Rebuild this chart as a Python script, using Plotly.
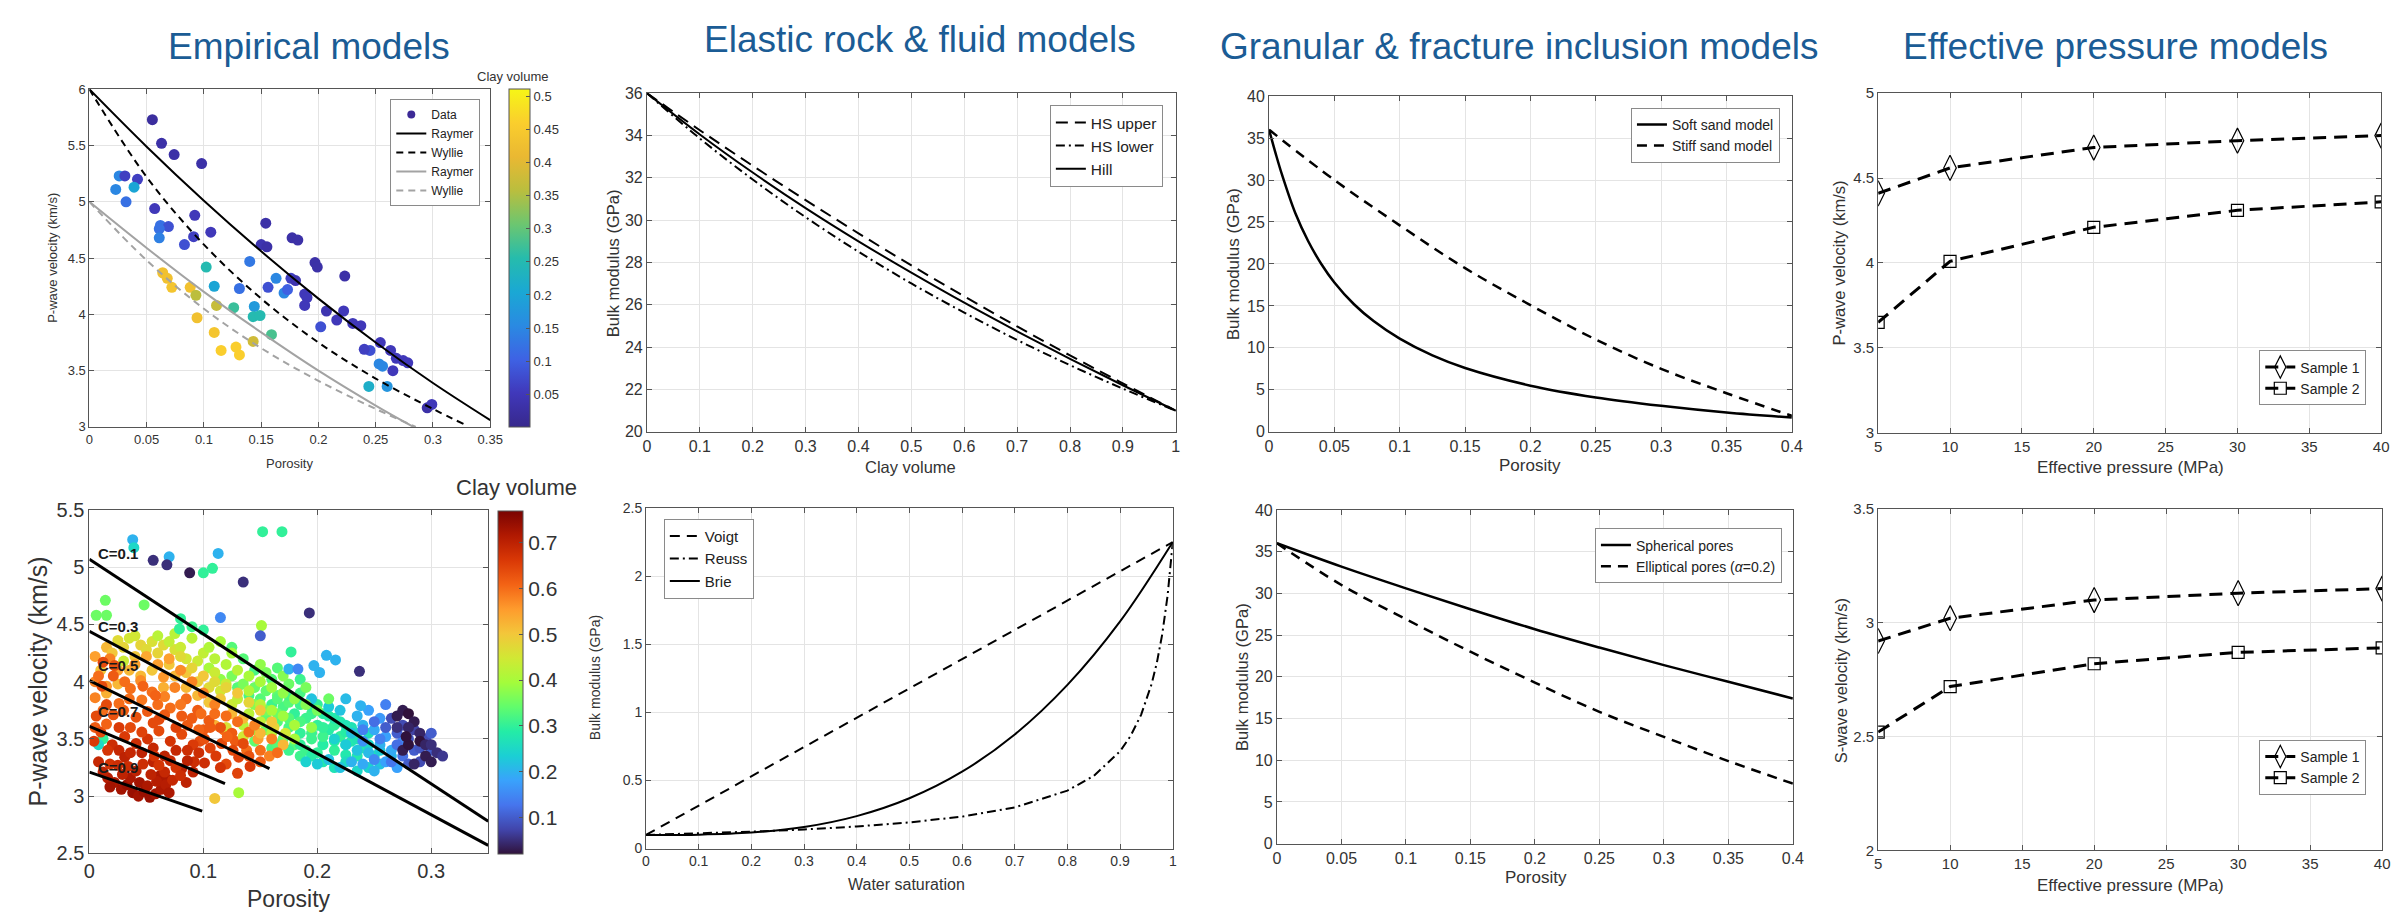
import plotly.graph_objects as go

W, H = 2408, 914
FONT = "Liberation Sans, Arial, Helvetica, sans-serif"
TITLE_BLUE = "#1b5c95"
AXIS_COL = "#555555"
GRID_COL = "#e4e4e4"
TICK_COL = "#333333"

# ============================ DATA ============================
# ---- Empirical models (top-left): data points ----
emp_phi = [0.055, 0.063, 0.074, 0.098, 0.026, 0.031, 0.042, 0.023, 0.039, 0.032,
           0.057, 0.092, 0.154, 0.062, 0.069, 0.061, 0.106, 0.177, 0.182, 0.061,
           0.091, 0.083, 0.150, 0.155, 0.140, 0.197, 0.199, 0.102, 0.223, 0.163,
           0.176, 0.180, 0.064, 0.068, 0.072, 0.088, 0.109, 0.131, 0.156, 0.170,
           0.173, 0.093, 0.188, 0.190, 0.188, 0.111, 0.144, 0.126, 0.207, 0.222,
           0.143, 0.149, 0.094, 0.202, 0.216, 0.230, 0.237, 0.109, 0.159, 0.143,
           0.115, 0.128, 0.131, 0.245, 0.240, 0.254, 0.263, 0.268, 0.274, 0.278,
           0.253, 0.256, 0.265, 0.244, 0.260, 0.295, 0.299]
emp_vp = [5.73, 5.52, 5.42, 5.34, 5.23, 5.23, 5.20, 5.11, 5.13, 5.00,
          4.94, 4.88, 4.81, 4.79, 4.78, 4.76, 4.73, 4.68, 4.66, 4.68,
          4.69, 4.62, 4.62, 4.60, 4.47, 4.46, 4.42, 4.42, 4.34, 4.32,
          4.32, 4.30, 4.37, 4.32, 4.24, 4.24, 4.25, 4.23, 4.24, 4.19,
          4.22, 4.17, 4.18, 4.15, 4.08, 4.08, 4.07, 4.06, 4.03, 4.03,
          3.98, 3.99, 3.97, 3.89, 3.95, 3.92, 3.90, 3.84, 3.82, 3.76,
          3.68, 3.71, 3.64, 3.68, 3.69, 3.75, 3.68, 3.61, 3.59, 3.57,
          3.56, 3.54, 3.50, 3.36, 3.36, 3.17, 3.20]
emp_clay = [0.02, 0.03, 0.03, 0.03, 0.15, 0.06, 0.06, 0.15, 0.20, 0.12,
            0.05, 0.05, 0.03, 0.12, 0.08, 0.12, 0.05, 0.03, 0.03, 0.14,
            0.06, 0.08, 0.04, 0.03, 0.13, 0.03, 0.03, 0.25, 0.03, 0.15,
            0.06, 0.04, 0.43, 0.43, 0.44, 0.43, 0.20, 0.12, 0.08, 0.15,
            0.10, 0.36, 0.05, 0.05, 0.05, 0.37, 0.18, 0.27, 0.04, 0.05,
            0.25, 0.25, 0.43, 0.08, 0.05, 0.05, 0.05, 0.44, 0.28, 0.38,
            0.46, 0.46, 0.46, 0.08, 0.06, 0.05, 0.05, 0.05, 0.05, 0.05,
            0.15, 0.15, 0.05, 0.22, 0.17, 0.03, 0.05]
# model curves
raymer_phi_a = [0, 0.05, 0.10, 0.15, 0.20, 0.25, 0.30, 0.35]
raymer_vp_a = [6.00, 5.49, 5.01, 4.56, 4.14, 3.75, 3.39, 3.06]
wyllie_phi_a = [0, 0.05, 0.10, 0.15, 0.20, 0.25, 0.30, 0.328]
wyllie_vp_a = [6.00, 5.22, 4.62, 4.14, 3.75, 3.43, 3.16, 3.02]
raymer_phi_b = [0, 0.05, 0.10, 0.15, 0.20, 0.25, 0.283]
raymer_vp_b = [5.00, 4.59, 4.20, 3.84, 3.50, 3.19, 3.00]
wyllie_phi_b = [0, 0.05, 0.10, 0.15, 0.20, 0.25, 0.285]
wyllie_vp_b = [5.00, 4.48, 4.05, 3.70, 3.41, 3.16, 3.00]

# ---- Elastic rock models (top-middle) ----
clay_frac = [0, 0.1, 0.2, 0.3, 0.4, 0.5, 0.6, 0.7, 0.8, 0.9, 1.0]
k_hs_upper = [36.0, 34.25, 32.57, 30.95, 29.38, 27.86, 26.40, 24.98, 23.61, 22.29, 21.0]
k_hs_lower = [36.0, 33.86, 31.92, 30.14, 28.51, 27.01, 25.63, 24.34, 23.15, 22.04, 21.0]
k_hill = [36.0, 34.05, 32.25, 30.57, 29.00, 27.52, 26.10, 24.75, 23.45, 22.20, 21.0]

# ---- Fluid models (bottom-middle) ----
sw_voigt = [0, 1.0]
k_voigt = [0.10, 2.25]
sw_reuss = [0, 0.1, 0.2, 0.3, 0.4, 0.5, 0.6, 0.7, 0.8, 0.85, 0.9, 0.92, 0.94, 0.96, 0.97, 0.98, 0.99, 1.0]
k_reuss = [0.100, 0.111, 0.124, 0.140, 0.162, 0.192, 0.234, 0.302, 0.425, 0.533, 0.714, 0.827,
           0.983, 1.210, 1.368, 1.573, 1.852, 2.25]
sw_brie = [0, 0.1, 0.2, 0.3, 0.4, 0.5, 0.6, 0.7, 0.8, 0.9, 1.0]
k_brie = [0.100, 0.102, 0.117, 0.158, 0.238, 0.369, 0.564, 0.837, 1.201, 1.667, 2.25]

# ---- Granular models (top-third) ----
soft_phi = [0, 0.005, 0.01, 0.02, 0.03, 0.04, 0.05, 0.065, 0.08, 0.10, 0.125, 0.15, 0.20, 0.25, 0.30, 0.35, 0.40]
soft_k = [36.0, 33.2, 30.6, 26.1, 22.7, 20.0, 17.8, 15.2, 13.2, 11.1, 9.1, 7.6, 5.5, 4.1, 3.1, 2.3, 1.7]
stiff_phi = [0, 0.05, 0.10, 0.15, 0.20, 0.25, 0.30, 0.35, 0.40]
stiff_k = [36.0, 30.0, 24.6, 19.5, 15.1, 11.0, 7.5, 4.6, 1.9]

# ---- Inclusion models (bottom-third) ----
incl_phi = [0, 0.05, 0.10, 0.15, 0.20, 0.25, 0.30, 0.35, 0.40]
k_spherical = [36.0, 33.2, 30.6, 28.1, 25.7, 23.5, 21.4, 19.4, 17.4]
k_elliptical = [36.0, 31.0, 26.9, 23.0, 19.3, 15.8, 12.8, 9.9, 7.2]

# ---- Effective pressure models (right) ----
pressure = [5, 10, 20, 30, 40]
vp_sample1 = [4.41, 4.56, 4.68, 4.72, 4.75]
vp_sample2 = [3.65, 4.01, 4.21, 4.31, 4.36]
vs_sample1 = [2.92, 3.02, 3.10, 3.13, 3.15]
vs_sample2 = [2.52, 2.72, 2.82, 2.87, 2.89]

# ---- Bottom-left scatter: (porosity, Vp, clay volume) ----
bl_teal = [(0.130, 3.95, 0.33), (0.140, 3.88, 0.32), (0.150, 3.85, 0.33), (0.160, 3.80, 0.31),
           (0.170, 3.78, 0.32), (0.180, 3.72, 0.30), (0.190, 3.68, 0.31), (0.200, 3.62, 0.30),
           (0.210, 3.58, 0.29), (0.220, 3.52, 0.30), (0.230, 3.48, 0.28), (0.240, 3.42, 0.28),
           (0.175, 3.60, 0.32), (0.185, 3.55, 0.30), (0.195, 3.50, 0.31), (0.205, 3.45, 0.29),
           (0.215, 3.40, 0.30), (0.225, 3.36, 0.28), (0.165, 3.65, 0.33), (0.155, 3.70, 0.34),
           (0.180, 3.45, 0.33), (0.190, 3.40, 0.31), (0.200, 3.38, 0.30), (0.170, 3.50, 0.34),
           (0.210, 3.70, 0.29), (0.220, 3.65, 0.28), (0.230, 3.60, 0.27), (0.200, 3.80, 0.30),
           (0.185, 3.90, 0.32), (0.160, 4.02, 0.33), (0.145, 4.10, 0.32), (0.135, 4.20, 0.33),
           (0.125, 4.30, 0.33), (0.100, 4.45, 0.30), (0.090, 4.48, 0.31), (0.080, 4.55, 0.30),
           (0.250, 3.35, 0.27), (0.245, 3.55, 0.26), (0.205, 3.52, 0.31), (0.215, 3.62, 0.30),
           (0.175, 3.82, 0.33), (0.165, 3.88, 0.34), (0.195, 3.72, 0.31), (0.235, 3.35, 0.28),
           (0.225, 3.56, 0.29), (0.185, 3.35, 0.31), (0.160, 3.42, 0.32), (0.145, 3.48, 0.34)]
bl_band = [(0.105, 4.12, 0.40), (0.115, 4.02, 0.38), (0.125, 4.05, 0.36), (0.135, 3.98, 0.36),
           (0.145, 3.95, 0.35), (0.155, 3.92, 0.34), (0.165, 3.85, 0.33), (0.175, 3.88, 0.32),
           (0.185, 3.80, 0.31), (0.195, 3.78, 0.30), (0.205, 3.72, 0.29), (0.215, 3.68, 0.28),
           (0.225, 3.62, 0.27), (0.235, 3.55, 0.26), (0.155, 4.08, 0.36), (0.165, 4.12, 0.33),
           (0.175, 3.98, 0.35), (0.185, 4.02, 0.31), (0.145, 3.80, 0.37), (0.155, 3.75, 0.36),
           (0.165, 3.72, 0.35), (0.175, 3.68, 0.33), (0.185, 3.65, 0.32), (0.195, 3.55, 0.31),
           (0.205, 3.60, 0.30), (0.215, 3.48, 0.29), (0.225, 3.45, 0.28), (0.235, 3.50, 0.27),
           (0.245, 3.45, 0.25), (0.255, 3.40, 0.23), (0.265, 3.35, 0.21), (0.255, 3.28, 0.22),
           (0.245, 3.25, 0.24), (0.235, 3.22, 0.25), (0.225, 3.30, 0.26), (0.215, 3.25, 0.27),
           (0.205, 3.30, 0.28), (0.195, 3.35, 0.29), (0.185, 3.45, 0.30), (0.175, 3.40, 0.31),
           (0.165, 3.45, 0.33), (0.155, 3.58, 0.35), (0.145, 3.58, 0.38), (0.135, 3.62, 0.42),
           (0.125, 3.80, 0.44), (0.115, 3.92, 0.45), (0.105, 3.95, 0.47), (0.095, 4.00, 0.49),
           (0.085, 4.08, 0.50), (0.075, 4.28, 0.46), (0.065, 4.32, 0.47), (0.055, 4.35, 0.46),
           (0.045, 4.32, 0.48), (0.035, 4.38, 0.45), (0.025, 4.36, 0.47), (0.015, 4.30, 0.52),
           (0.005, 4.22, 0.55), (0.005, 4.00, 0.58), (0.012, 3.75, 0.60), (0.005, 3.60, 0.62),
           (0.012, 3.50, 0.30), (0.008, 3.45, 0.25), (0.018, 3.28, 0.67), (0.008, 3.30, 0.69),
           (0.062, 3.18, 0.72), (0.068, 3.15, 0.72), (0.085, 3.12, 0.70), (0.092, 3.30, 0.68),
           (0.097, 3.48, 0.64), (0.118, 3.58, 0.60), (0.128, 3.48, 0.62), (0.138, 3.40, 0.60),
           (0.148, 3.50, 0.55), (0.158, 3.35, 0.58), (0.162, 3.60, 0.48), (0.172, 3.55, 0.45),
           (0.140, 3.35, 0.63), (0.120, 3.28, 0.64), (0.130, 3.20, 0.65)]
bl_lightblue = [(0.190, 3.30, 0.24), (0.200, 3.28, 0.23), (0.210, 3.32, 0.22), (0.220, 3.25, 0.22),
                (0.230, 3.30, 0.20), (0.240, 3.28, 0.19), (0.250, 3.22, 0.20), (0.260, 3.30, 0.18),
                (0.270, 3.25, 0.18), (0.215, 3.50, 0.24), (0.225, 3.45, 0.23), (0.235, 3.40, 0.22),
                (0.245, 3.38, 0.21), (0.255, 3.45, 0.20), (0.265, 3.40, 0.19), (0.230, 3.55, 0.22),
                (0.240, 3.62, 0.20), (0.250, 3.58, 0.19), (0.260, 3.52, 0.18), (0.235, 3.70, 0.20),
                (0.245, 3.75, 0.18), (0.255, 3.68, 0.17), (0.220, 3.75, 0.22), (0.210, 3.78, 0.23),
                (0.225, 3.85, 0.21), (0.260, 3.80, 0.14), (0.195, 3.85, 0.22), (0.275, 3.48, 0.15)]
bl_blue = [(0.250, 3.65, 0.12), (0.260, 3.60, 0.10), (0.270, 3.55, 0.10), (0.265, 3.68, 0.08),
           (0.275, 3.62, 0.08), (0.280, 3.50, 0.09), (0.285, 3.40, 0.10), (0.275, 3.35, 0.12),
           (0.265, 3.30, 0.13), (0.255, 3.50, 0.14), (0.280, 3.28, 0.10), (0.290, 3.30, 0.08),
           (0.295, 3.50, 0.08), (0.300, 3.55, 0.10), (0.285, 3.58, 0.07), (0.270, 3.45, 0.12),
           (0.250, 3.32, 0.15), (0.240, 3.48, 0.16), (0.290, 3.42, 0.09), (0.300, 3.40, 0.10),
           (0.240, 3.58, 0.14)]
bl_darkblue = [(0.270, 3.70, 0.03), (0.275, 3.75, 0.03), (0.280, 3.72, 0.02), (0.285, 3.65, 0.03),
               (0.280, 3.60, 0.04), (0.290, 3.55, 0.04), (0.295, 3.35, 0.03), (0.300, 3.30, 0.03),
               (0.305, 3.38, 0.05), (0.310, 3.35, 0.06), (0.285, 3.28, 0.04), (0.275, 3.40, 0.03),
               (0.290, 3.48, 0.02), (0.280, 3.45, 0.02), (0.295, 3.45, 0.04), (0.270, 3.60, 0.05),
               (0.300, 3.45, 0.05), (0.278, 3.52, 0.02)]
bl_lightgreen = [(0.060, 4.40, 0.42), (0.070, 4.35, 0.43), (0.080, 4.30, 0.44), (0.090, 4.38, 0.42),
                 (0.100, 4.25, 0.43), (0.110, 4.20, 0.42), (0.120, 4.15, 0.41), (0.130, 4.10, 0.42),
                 (0.140, 4.05, 0.40), (0.150, 4.00, 0.40), (0.160, 3.95, 0.39), (0.170, 3.90, 0.38),
                 (0.180, 3.85, 0.38), (0.190, 3.80, 0.37), (0.200, 3.75, 0.36), (0.110, 4.08, 0.44),
                 (0.120, 3.98, 0.44), (0.130, 3.85, 0.43), (0.140, 3.92, 0.41), (0.150, 3.80, 0.42),
                 (0.160, 3.75, 0.40), (0.170, 3.70, 0.39), (0.180, 3.62, 0.40), (0.150, 3.65, 0.43),
                 (0.160, 3.55, 0.42), (0.140, 3.72, 0.42), (0.095, 4.18, 0.44), (0.105, 4.30, 0.41),
                 (0.125, 4.25, 0.40), (0.085, 4.20, 0.45), (0.150, 4.15, 0.38), (0.170, 4.05, 0.37),
                 (0.190, 3.95, 0.36), (0.210, 3.85, 0.35), (0.075, 4.42, 0.42), (0.115, 4.35, 0.40),
                 (0.040, 4.40, 0.45), (0.030, 4.18, 0.44), (0.180, 3.50, 0.40), (0.195, 3.60, 0.38),
                 (0.135, 3.52, 0.45), (0.120, 3.60, 0.46)]
bl_yellow = [(0.010, 4.10, 0.50), (0.020, 4.25, 0.50), (0.030, 4.30, 0.48), (0.040, 4.22, 0.50),
             (0.050, 4.28, 0.47), (0.060, 4.25, 0.48), (0.070, 4.15, 0.50), (0.080, 4.22, 0.47),
             (0.090, 4.12, 0.48), (0.100, 4.05, 0.50), (0.110, 4.00, 0.47), (0.120, 3.95, 0.48),
             (0.130, 3.90, 0.50), (0.140, 3.82, 0.48), (0.150, 3.75, 0.50), (0.045, 4.05, 0.52),
             (0.055, 4.10, 0.50), (0.085, 3.95, 0.52), (0.095, 3.88, 0.52), (0.105, 3.82, 0.50),
             (0.125, 3.72, 0.52), (0.015, 3.90, 0.53), (0.035, 4.10, 0.52), (0.075, 4.05, 0.52),
             (0.115, 3.85, 0.50), (0.135, 3.68, 0.52), (0.160, 3.65, 0.50), (0.025, 3.98, 0.52),
             (0.065, 3.95, 0.53), (0.150, 3.55, 0.52), (0.170, 3.45, 0.52), (0.110, 3.62, 0.53)]
bl_orange = [(0.005, 3.86, 0.58), (0.015, 3.96, 0.56), (0.025, 4.10, 0.55), (0.035, 3.85, 0.60),
             (0.045, 4.01, 0.57), (0.055, 3.91, 0.60), (0.065, 4.04, 0.56), (0.075, 3.95, 0.58),
             (0.085, 3.85, 0.60), (0.095, 3.75, 0.62), (0.105, 3.66, 0.62), (0.115, 3.60, 0.63),
             (0.125, 3.55, 0.62), (0.135, 3.46, 0.64), (0.140, 3.56, 0.60), (0.060, 4.15, 0.55),
             (0.070, 4.20, 0.55), (0.080, 4.10, 0.57), (0.090, 4.00, 0.58), (0.100, 3.90, 0.58),
             (0.110, 3.80, 0.58), (0.120, 3.70, 0.60), (0.130, 3.65, 0.60), (0.050, 4.22, 0.54),
             (0.040, 4.15, 0.55), (0.030, 3.75, 0.62), (0.008, 4.05, 0.60), (0.018, 4.20, 0.58),
             (0.150, 3.40, 0.60), (0.145, 3.62, 0.58), (0.100, 3.58, 0.62), (0.110, 3.72, 0.60),
             (0.160, 3.50, 0.58), (0.165, 3.38, 0.60), (0.090, 3.68, 0.62), (0.150, 3.30, 0.62),
             (0.060, 3.80, 0.60), (0.080, 3.80, 0.59)]
bl_red = [(0.004, 3.48, 0.66), (0.010, 3.56, 0.64), (0.015, 3.63, 0.61), (0.020, 3.45, 0.68),
          (0.026, 3.40, 0.69), (0.031, 3.52, 0.66), (0.036, 3.60, 0.64), (0.041, 3.46, 0.68),
          (0.046, 3.38, 0.70), (0.051, 3.50, 0.67), (0.056, 3.42, 0.69), (0.061, 3.57, 0.64),
          (0.066, 3.35, 0.70), (0.071, 3.48, 0.67), (0.076, 3.40, 0.69), (0.081, 3.54, 0.64),
          (0.086, 3.31, 0.70), (0.091, 3.45, 0.66), (0.096, 3.38, 0.68), (0.101, 3.50, 0.63),
          (0.106, 3.42, 0.65), (0.031, 3.34, 0.70), (0.041, 3.69, 0.63), (0.051, 3.74, 0.62),
          (0.061, 3.67, 0.64), (0.071, 3.77, 0.60), (0.081, 3.70, 0.62), (0.021, 3.71, 0.63),
          (0.026, 3.81, 0.60), (0.046, 3.84, 0.59), (0.066, 3.87, 0.58), (0.036, 3.94, 0.60),
          (0.015, 3.80, 0.64), (0.056, 3.30, 0.70), (0.076, 3.60, 0.65), (0.086, 3.62, 0.62),
          (0.096, 3.58, 0.61), (0.111, 3.35, 0.66), (0.116, 3.46, 0.64), (0.121, 3.52, 0.61),
          (0.126, 3.40, 0.64), (0.011, 3.96, 0.64), (0.021, 4.05, 0.62), (0.012, 4.17, 0.64),
          (0.022, 4.14, 0.63), (0.031, 4.00, 0.60), (0.006, 3.70, 0.64), (0.026, 3.60, 0.66),
          (0.046, 3.56, 0.65), (0.066, 3.71, 0.62), (0.101, 3.29, 0.68), (0.091, 3.21, 0.70),
          (0.081, 3.24, 0.70), (0.071, 3.31, 0.69), (0.056, 3.64, 0.64), (0.036, 3.38, 0.69),
          (0.016, 3.40, 0.67), (0.086, 3.40, 0.68), (0.106, 3.60, 0.62), (0.131, 3.34, 0.65),
          (0.141, 3.26, 0.66), (0.047, 3.96, 0.61), (0.058, 3.88, 0.61), (0.098, 3.72, 0.60),
          (0.115, 3.25, 0.67)]
bl_darkred = [(0.022, 3.12, 0.72), (0.028, 3.06, 0.73), (0.033, 3.10, 0.74), (0.038, 3.03, 0.74),
              (0.043, 3.00, 0.73), (0.048, 3.04, 0.74), (0.053, 2.99, 0.74), (0.058, 3.02, 0.73),
              (0.063, 3.06, 0.72), (0.036, 3.16, 0.72), (0.044, 3.12, 0.73), (0.051, 3.09, 0.72),
              (0.059, 3.13, 0.71), (0.067, 3.10, 0.71), (0.029, 3.19, 0.70), (0.041, 3.22, 0.70),
              (0.054, 3.19, 0.70), (0.066, 3.21, 0.69), (0.016, 3.16, 0.71), (0.034, 3.26, 0.68),
              (0.047, 3.28, 0.68), (0.061, 3.27, 0.67), (0.073, 3.14, 0.69), (0.012, 3.21, 0.70),
              (0.076, 3.25, 0.67), (0.025, 3.27, 0.68), (0.070, 3.03, 0.72), (0.080, 3.18, 0.68),
              (0.018, 3.08, 0.73), (0.057, 3.35, 0.67)]
bl_outliers = [(0.038, 5.24, 0.20), (0.039, 5.17, 0.25), (0.070, 5.09, 0.20), (0.056, 5.06, 0.05),
               (0.068, 5.02, 0.05), (0.088, 4.95, 0.03), (0.100, 4.95, 0.30), (0.108, 4.99, 0.30),
               (0.113, 5.12, 0.20), (0.152, 5.31, 0.30), (0.169, 5.31, 0.30), (0.135, 4.87, 0.05),
               (0.193, 4.60, 0.05), (0.115, 4.56, 0.15), (0.014, 4.71, 0.35), (0.048, 4.67, 0.35),
               (0.006, 4.58, 0.35), (0.015, 4.58, 0.35), (0.151, 4.49, 0.40), (0.150, 4.40, 0.10),
               (0.079, 4.46, 0.30), (0.237, 4.09, 0.05), (0.208, 4.23, 0.20), (0.216, 4.19, 0.20),
               (0.131, 3.03, 0.40), (0.110, 2.98, 0.50), (0.202, 4.08, 0.20), (0.175, 4.11, 0.20),
               (0.183, 4.11, 0.15), (0.197, 4.14, 0.20), (0.177, 4.26, 0.30), (0.238, 3.79, 0.20)]
# constant-clay trend lines
c_line_labels = ["C=0.1", "C=0.3", "C=0.5", "C=0.7", "C=0.9"]
c_line_phi = [[0, 0.35], [0, 0.35], [0, 0.158], [0, 0.119], [0, 0.099]]
c_line_vp = [[5.07, 2.78], [4.44, 2.57], [4.01, 3.24], [3.61, 3.11], [3.21, 2.87]]
c_label_vp = [5.12, 4.48, 4.14, 3.74, 3.25]

# tick values
tl_xticks = [0, 0.05, 0.1, 0.15, 0.2, 0.25, 0.3, 0.35]
tl_yticks = [3, 3.5, 4, 4.5, 5, 5.5, 6]
tl_cticks = [0.05, 0.1, 0.15, 0.2, 0.25, 0.3, 0.35, 0.4, 0.45, 0.5]
tm_xticks = [0, 0.1, 0.2, 0.3, 0.4, 0.5, 0.6, 0.7, 0.8, 0.9, 1]
tm_yticks = [20, 22, 24, 26, 28, 30, 32, 34, 36]
bm_yticks = [0, 0.5, 1, 1.5, 2, 2.5]
g_xticks = [0, 0.05, 0.1, 0.15, 0.2, 0.25, 0.3, 0.35, 0.4]
g_yticks = [0, 5, 10, 15, 20, 25, 30, 35, 40]
p_xticks = [5, 10, 15, 20, 25, 30, 35, 40]
tr_yticks = [3, 3.5, 4, 4.5, 5]
br_yticks = [2, 2.5, 3, 3.5]
bl_xticks = [0, 0.1, 0.2, 0.3]
bl_yticks = [2.5, 3, 3.5, 4, 4.5, 5, 5.5]
bl_cticks = [0.1, 0.2, 0.3, 0.4, 0.5, 0.6, 0.7]

# ============================ FIGURE ============================
PARULA = [[0.0, "rgb(55,40,140)"], [0.1, "rgb(64,56,186)"], [0.2, "rgb(62,98,228)"],
          [0.3, "rgb(42,138,226)"], [0.4, "rgb(26,168,212)"], [0.5, "rgb(38,188,172)"],
          [0.6, "rgb(108,198,112)"], [0.7, "rgb(186,190,62)"], [0.8, "rgb(234,184,50)"],
          [0.9, "rgb(250,206,45)"], [1.0, "rgb(246,246,22)"]]


def fmt(v):
    return f"{v:g}"


fig = go.Figure()

# panel boxes in pixels (left, top, right, bottom)
BOX = {1: (76, 72, 480, 418), 2: (638, 76, 1171, 423), 3: (1265, 79, 1792, 423),
       4: (1879, 76, 2386, 424), 5: (76, 503, 478, 855), 6: (637, 501, 1168, 850),
       7: (1273, 503, 1793, 845), 8: (1879, 502, 2387, 852)}


def sfx(i):
    return "" if i == 1 else str(i)


def axes(i, xr, yr, xt, yt, fs):
    l, t, r, b = BOX[i]
    common = dict(showline=True, linecolor=AXIS_COL, linewidth=1, mirror="ticks",
                  ticks="inside", ticklen=5, tickcolor=AXIS_COL, showgrid=True,
                  gridcolor=GRID_COL, gridwidth=1, zeroline=False, fixedrange=True,
                  tickfont=dict(family=FONT, size=fs, color=TICK_COL))
    fig.layout["xaxis" + sfx(i)] = dict(domain=[l / W, r / W], anchor="y" + sfx(i), range=xr,
                                        tickvals=xt, ticktext=[fmt(v) for v in xt], **common)
    fig.layout["yaxis" + sfx(i)] = dict(domain=[1 - b / H, 1 - t / H], anchor="x" + sfx(i), range=yr,
                                        tickvals=yt, ticktext=[fmt(v) for v in yt], **common)


axes(1, [0, 0.35], [3, 6], tl_xticks, tl_yticks, 13)
axes(2, [0, 1], [20, 36], tm_xticks, tm_yticks, 16)
axes(3, [0, 0.4], [0, 40], g_xticks, g_yticks, 16)
axes(4, [5, 40], [3, 5], p_xticks, tr_yticks, 15)
axes(5, [0, 0.35], [2.5, 5.5], bl_xticks, bl_yticks, 20)
axes(6, [0, 1], [0, 2.5], tm_xticks, bm_yticks, 14)
axes(7, [0, 0.4], [0, 40], g_xticks, g_yticks, 16)
axes(8, [5, 40], [2, 3.5], p_xticks, br_yticks, 15)


def line(x, y, i, name, color="black", width=2, dash="solid", shape="spline", legend=None, show=True):
    fig.add_trace(go.Scatter(x=x, y=y, mode="lines", name=name, xaxis="x" + sfx(i), yaxis="y" + sfx(i),
                             line=dict(color=color, width=width, dash=dash, shape=shape),
                             legend=legend, showlegend=show and legend is not None, hoverinfo="skip"))


# Panel 1: empirical models
fig.add_trace(go.Scatter(x=[None], y=[None], mode="markers", name="Data", xaxis="x", yaxis="y",
                         marker=dict(color="rgb(60,42,150)", size=8), legend="legend"))
fig.add_trace(go.Scatter(x=emp_phi, y=emp_vp, mode="markers", name="Data", xaxis="x", yaxis="y",
                         marker=dict(color=emp_clay, coloraxis="coloraxis", size=11),
                         showlegend=False, hoverinfo="skip"))
line(raymer_phi_a, raymer_vp_a, 1, "Raymer", legend="legend")
line(wyllie_phi_a, wyllie_vp_a, 1, "Wyllie", dash="7px,5px", legend="legend")
line(raymer_phi_b, raymer_vp_b, 1, "Raymer", color="#a3a3a3", legend="legend")
line(wyllie_phi_b, wyllie_vp_b, 1, "Wyllie", color="#a3a3a3", dash="7px,5px", legend="legend")

# Panel 2: HS bounds
line(clay_frac, k_hs_upper, 2, "HS upper", dash="12px,7px", legend="legend2")
line(clay_frac, k_hs_lower, 2, "HS lower", dash="9px,4px,2px,4px", legend="legend2")
line(clay_frac, k_hill, 2, "Hill", legend="legend2")

# Panel 3: granular
line(soft_phi, soft_k, 3, "Soft sand model", width=2.5, legend="legend3")
line(stiff_phi, stiff_k, 3, "Stiff sand model", width=2.5, dash="10px,7px", legend="legend3")

# Panel 4 / 8: effective pressure
for i, s1, s2, lg in [(4, vp_sample1, vp_sample2, "legend4"), (8, vs_sample1, vs_sample2, "legend7")]:
    fig.add_trace(go.Scatter(x=pressure, y=s1, mode="lines+markers", name="Sample 1",
                             xaxis="x" + sfx(i), yaxis="y" + sfx(i), legend=lg, hoverinfo="skip",
                             line=dict(color="black", width=3, dash="13px,8px"),
                             marker=dict(symbol="diamond-tall-open", size=18, color="black",
                                         line=dict(width=1.2, color="black"))))
    fig.add_trace(go.Scatter(x=pressure, y=s2, mode="lines+markers", name="Sample 2",
                             xaxis="x" + sfx(i), yaxis="y" + sfx(i), legend=lg, hoverinfo="skip",
                             line=dict(color="black", width=3, dash="13px,8px"),
                             marker=dict(symbol="square-open", size=12, color="black",
                                         line=dict(width=1.2, color="black"))))

# Panel 5: bottom-left scatter
bl_all = (bl_teal + bl_band + bl_lightblue + bl_blue + bl_darkblue + bl_lightgreen + bl_yellow
          + bl_orange + bl_red + bl_darkred + bl_outliers)
fig.add_trace(go.Scatter(x=[p[0] for p in bl_all], y=[p[1] for p in bl_all], mode="markers",
                         xaxis="x5", yaxis="y5", showlegend=False, hoverinfo="skip",
                         marker=dict(color=[p[2] for p in bl_all], coloraxis="coloraxis2", size=11)))
for xs, ys in zip(c_line_phi, c_line_vp):
    line(xs, ys, 5, "", width=3, shape="linear")

# Panel 6: fluid mixing
line(sw_voigt, k_voigt, 6, "Voigt", dash="10px,7px", shape="linear", legend="legend5")
line(sw_reuss, k_reuss, 6, "Reuss", dash="9px,4px,2px,4px", shape="linear", legend="legend5")
line(sw_brie, k_brie, 6, "Brie", legend="legend5")

# Panel 7: inclusion
line(incl_phi, k_spherical, 7, "Spherical pores", width=2.5, legend="legend6")
line(incl_phi, k_elliptical, 7, "Elliptical pores (<i>α</i>=0.2)", width=2.5, dash="10px,7px", legend="legend6")


# ---------------- legends ----------------
def legend(x, y, xa, ya, fs):
    return dict(x=x / W, y=1 - y / H, xanchor=xa, yanchor=ya, bgcolor="white", bordercolor="#8a8a8a",
                borderwidth=1, font=dict(family=FONT, size=fs, color="#222222"), tracegroupgap=0,
                itemwidth=30)


fig.update_layout(
    legend=legend(470, 82, "right", "top", 12),
    legend2=legend(1158, 88, "right", "top", 15.5),
    legend3=legend(1780, 91, "right", "top", 14),
    legend4=legend(2371, 396, "right", "bottom", 14),
    legend5=legend(655, 512, "left", "top", 15),
    legend6=legend(1782, 522, "right", "top", 14),
    legend7=legend(2371, 795, "right", "bottom", 14),
)

# ---------------- colorbars ----------------
fig.update_layout(
    coloraxis=dict(colorscale=PARULA, cmin=0.0, cmax=0.511,
                   colorbar=dict(x=499 / W, xanchor="left", y=1 - 72 / H, yanchor="top",
                                 len=(418 - 72) / H, lenmode="fraction", thickness=21,
                                 thicknessmode="pixels", xpad=0, ypad=0, outlinewidth=1,
                                 outlinecolor=AXIS_COL, tickvals=tl_cticks,
                                 ticktext=[fmt(v) for v in tl_cticks], ticks="inside", ticklen=4,
                                 tickcolor=AXIS_COL, tickfont=dict(family=FONT, size=13, color=TICK_COL))),
    coloraxis2=dict(colorscale="Turbo", cmin=0.02, cmax=0.77,
                    colorbar=dict(x=488 / W, xanchor="left", y=1 - 504 / H, yanchor="top",
                                  len=(855 - 504) / H, lenmode="fraction", thickness=25,
                                  thicknessmode="pixels", xpad=0, ypad=0, outlinewidth=1,
                                  outlinecolor=AXIS_COL, tickvals=bl_cticks,
                                  ticktext=[fmt(v) for v in bl_cticks], ticks="inside", ticklen=4,
                                  tickcolor=AXIS_COL, tickfont=dict(family=FONT, size=21, color=TICK_COL))),
)

# ---------------- annotations ----------------
ann = []


def text(t, x, y, fs, color="#333333", angle=0, xa="center", bold=False):
    ann.append(dict(text=f"<b>{t}</b>" if bold else t, x=x / W, y=1 - y / H, xref="paper", yref="paper",
                    showarrow=False, textangle=angle, xanchor=xa, yanchor="middle",
                    font=dict(family=FONT, size=fs, color=color)))


for t, x, y in [("Empirical models", 297, 28), ("Elastic rock &amp; fluid models", 913, 21),
                ("Granular &amp; fracture inclusion models", 1517, 28),
                ("Effective pressure models", 2118, 28)]:
    text(t, x, y, 37, color=TITLE_BLUE)

# axis titles
text("P-wave velocity (km/s)", 38, 245, 13, angle=-90)
text("Porosity", 278, 455, 13)
text("Bulk modulus (GPa)", 604, 250, 16.5, angle=-90)
text("Clay volume", 904, 459, 16.5)
text("Bulk modulus (GPa)", 1230, 251, 17, angle=-90)
text("Porosity", 1528, 458, 17)
text("P-wave velocity (km/s)", 1839, 250, 16.5, angle=-90)
text("Effective pressure (MPa)", 2133, 460, 17)
text("P-wave velocity (km/s)", 24, 679, 25, angle=-90)
text("Porosity", 277, 902, 23)
text("Bulk modulus (GPa)", 585, 675, 14, angle=-90)
text("Water saturation", 900, 887, 16)
text("Bulk modulus (GPa)", 1238, 674, 16.5, angle=-90)
text("Porosity", 1534, 880, 17)
text("S-wave velocity (km/s)", 1841, 678, 16.5, angle=-90)
text("Effective pressure (MPa)", 2133, 888, 17)
# colorbar titles
text("Clay volume", 503, 59, 13)
text("Clay volume", 507, 480, 22)

# constant-clay labels
for lab, yv in zip(c_line_labels, c_label_vp):
    ann.append(dict(text=f"<b>{lab}</b>", x=0.006, y=yv, xref="x5", yref="y5", showarrow=False,
                    xanchor="left", yanchor="middle", font=dict(family=FONT, size=15, color="#1a1a1a")))

fig.update_layout(annotations=ann, width=W, height=H, autosize=False,
                  margin=dict(l=0, r=0, t=0, b=0), paper_bgcolor="white", plot_bgcolor="white",
                  font=dict(family=FONT, color="#333333"), hovermode=False)

fig.write_html("out.html", include_plotlyjs=True, config={"displayModeBar": False})
